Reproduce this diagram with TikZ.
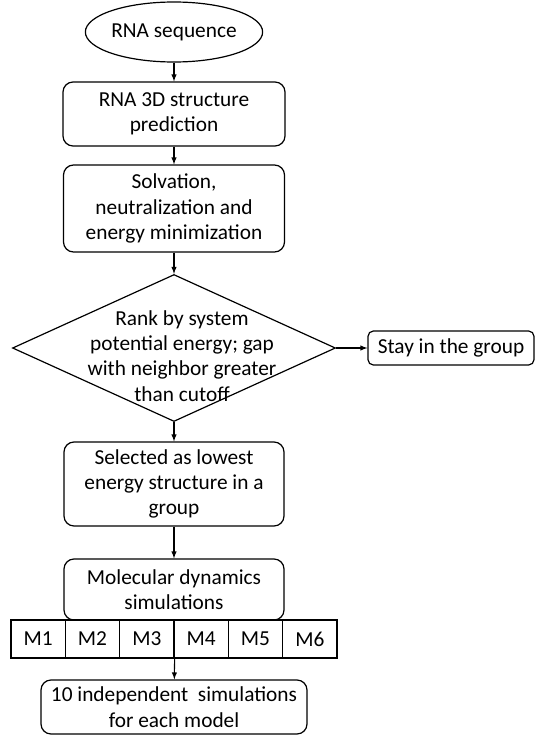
\documentclass[tikz,border=0pt]{standalone}
\usepackage{fontspec}
\setmainfont{Carlito}
\usetikzlibrary{shapes.geometric}

\begin{document}
\begin{tikzpicture}[x=0.75pt,y=-0.75pt,
    font=\fontsize{16}{19}\selectfont,
    box/.style={draw,line width=0.9pt,rounded corners=7.5pt,align=center,inner sep=0pt},
    cell/.style={draw,line width=0.9pt,inner sep=0pt,minimum width=40.75pt,minimum height=28.5pt},
    arr/.style={line width=0.8pt,-latex}]
    \useasboundingbox (0,0) rectangle (535,735);
    % main column
    \node[draw,line width=0.9pt,ellipse,inner sep=0pt,minimum width=118.5pt,minimum height=45pt] (seq) at (174,32) {RNA sequence};
    \node[box,minimum width=166.5pt,minimum height=48pt] (pred) at (174,114) {RNA 3D structure\\prediction};
    \node[box,minimum width=165.75pt,minimum height=65.25pt] (solv) at (174,208.5) {Solvation,\\neutralization and\\energy minimization};
    \node[draw,line width=0.9pt,diamond,inner sep=0pt,minimum width=242.25pt,minimum height=110.25pt] (rank) at (174,348) {};
    \node[align=center,inner sep=0pt] (ranktext) at (182,356) {Rank by system\\potential energy; gap\\with neighbor greater\\than cutoff};
    \node[box,rounded corners=4pt,minimum width=124.5pt,minimum height=25.5pt] (stay) at (451,348) {Stay in the group};
    \node[box,minimum width=165pt,minimum height=63pt] (sel) at (174,484) {Selected as lowest\\energy structure in a\\group};
    \node[box,minimum width=165pt,minimum height=45.75pt] (md) at (174,589.5) {Molecular dynamics\\simulations};
    % models
    \foreach \i in {1,...,6}
        \node[cell] (m\i) at ({11+54.33*(\i-0.5)},639) {M\i};
    \node[box,minimum width=199.5pt,minimum height=40.5pt] (res) at (174,707) {10 independent\ \ simulations\\for each model};
    % arrows
    \draw[arr] (seq) -- (pred);
    \draw[arr] (pred) -- (solv);
    \draw[arr] (solv) -- (rank);
    \draw[arr] (rank) -- (stay);
    \draw[arr] (rank) -- (sel);
    \draw[arr] (sel) -- (md);
    \draw[arr] (m3.south east) -- (res);
\end{tikzpicture}
\end{document}
